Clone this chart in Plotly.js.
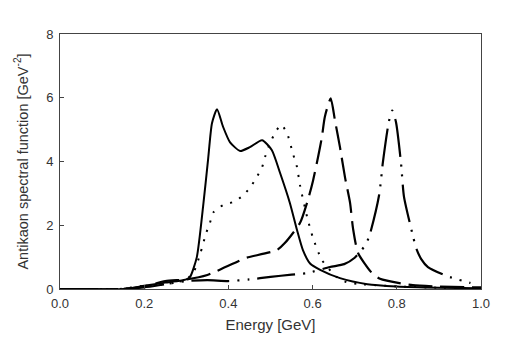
<!DOCTYPE html>
<html>
<head>
<meta charset="utf-8">
<script src="https://cdn.plot.ly/plotly-3.0.1.min.js"></script>
<style>
  html, body { margin: 0; padding: 0; background: #fff; }
  #plot { width: 507px; height: 350px; }
</style>
</head>
<body>
<div id="plot"></div>
<script>
// Energy [GeV] and spectral function values
var solidE = [0, 0.15, 0.2, 0.25, 0.28, 0.3, 0.309, 0.325, 0.34, 0.352, 0.361, 0.373, 0.387, 0.404, 0.428, 0.451, 0.48, 0.503, 0.523, 0.546, 0.563, 0.577, 0.594, 0.618, 0.665, 0.73, 0.8, 0.9, 1.0];
var solidV = [0, 0, 0.1, 0.2, 0.25, 0.3, 0.38, 1.0, 2.6, 4.1, 5.2, 5.64, 5.1, 4.6, 4.33, 4.45, 4.67, 4.36, 3.63, 2.7, 1.85, 1.22, 0.8, 0.6, 0.34, 0.15, 0.08, 0.04, 0.02];

var dotE = [0, 0.14, 0.2, 0.25, 0.3, 0.318, 0.333, 0.347, 0.356, 0.364, 0.387, 0.411, 0.432, 0.451, 0.466, 0.48, 0.487, 0.499, 0.511, 0.525, 0.539, 0.553, 0.563, 0.57, 0.587, 0.601, 0.622, 0.657, 0.68, 0.708, 0.8, 0.9, 1.0];
var dotV = [0, 0, 0.1, 0.15, 0.3, 0.55, 1.1, 1.75, 2.07, 2.4, 2.63, 2.73, 2.9, 3.17, 3.48, 3.82, 4.14, 4.58, 4.9, 5.15, 4.9, 4.26, 3.82, 3.26, 2.26, 1.6, 0.91, 0.38, 0.22, 0.16, 0.08, 0.04, 0.02];

var dashE = [0, 0.15, 0.2, 0.25, 0.3, 0.35, 0.42, 0.44, 0.515, 0.534, 0.57, 0.589, 0.601, 0.613, 0.622, 0.629, 0.643, 0.653, 0.665, 0.677, 0.689, 0.696, 0.708, 0.741, 0.76, 0.838, 0.9, 1.0];
var dashV = [0, 0, 0.08, 0.25, 0.3, 0.44, 0.85, 0.97, 1.22, 1.44, 2.07, 2.8, 3.4, 4.14, 4.76, 5.4, 5.98, 5.3, 4.45, 3.5, 2.7, 1.9, 1.13, 0.5, 0.32, 0.12, 0.08, 0.05];

var ddotE = [0, 0.14, 0.2, 0.25, 0.3, 0.35, 0.4, 0.45, 0.5, 0.55, 0.587, 0.641, 0.675, 0.7, 0.722, 0.734, 0.758, 0.767, 0.781, 0.789, 0.798, 0.81, 0.817, 0.839, 0.846, 0.858, 0.874, 0.92, 0.975];
var ddotV = [0, 0, 0.05, 0.15, 0.25, 0.28, 0.25, 0.3, 0.38, 0.45, 0.5, 0.69, 0.78, 0.98, 1.32, 1.63, 2.95, 3.98, 5.24, 5.6, 5.24, 3.95, 2.9, 1.63, 1.28, 0.94, 0.69, 0.4, 0.19];

var curve = function (x, y, dash, w) {
    return {
        x: x,
        y: y,
        type: "scatter",
        mode: "lines",
        line: { color: "black", width: w, dash: dash, shape: "spline", smoothing: 0.6 },
        hoverinfo: "none"
    };
};

var plotData = [
    curve(solidE, solidV, "solid", 2),
    curve(dotE, dotV, "2px,8px", 2),
    curve(dashE, dashV, "24px,8px", 2.2),
    curve(ddotE, ddotV, "38px,8px,2px,8px,2px,8px", 2.2)
];

var layout = {
    width: 507,
    height: 350,
    showlegend: false,
    margin: { l: 60, r: 26, t: 34, b: 61 },
    paper_bgcolor: "white",
    plot_bgcolor: "white",
    font: { family: "Liberation Sans, Arial, sans-serif", size: 13, color: "#333" },
    xaxis: {
        title: { text: "Energy [GeV]", font: { size: 15 }, standoff: 9 },
        range: [0, 1],
        tickvals: [0, 0.2, 0.4, 0.6, 0.8, 1.0],
        tickformat: ".1f",
        ticks: "inside",
        ticklen: 4,
        tickcolor: "#444",
        ticklabelstandoff: 2,
        showgrid: false,
        zeroline: false,
        showline: true,
        linecolor: "#444",
        linewidth: 1,
        mirror: true
    },
    yaxis: {
        title: { text: "Antikaon spectral function [GeV<sup>-2</sup>]", font: { size: 14.5 }, standoff: 14 },
        range: [0, 8],
        tickvals: [0, 2, 4, 6, 8],
        ticks: "inside",
        ticklen: 4,
        tickcolor: "#444",
        ticklabelstandoff: 3,
        showgrid: false,
        zeroline: false,
        showline: true,
        linecolor: "#444",
        linewidth: 1,
        mirror: true
    }
};

Plotly.newPlot("plot", plotData, layout, { staticPlot: true });
</script>
</body>
</html>
